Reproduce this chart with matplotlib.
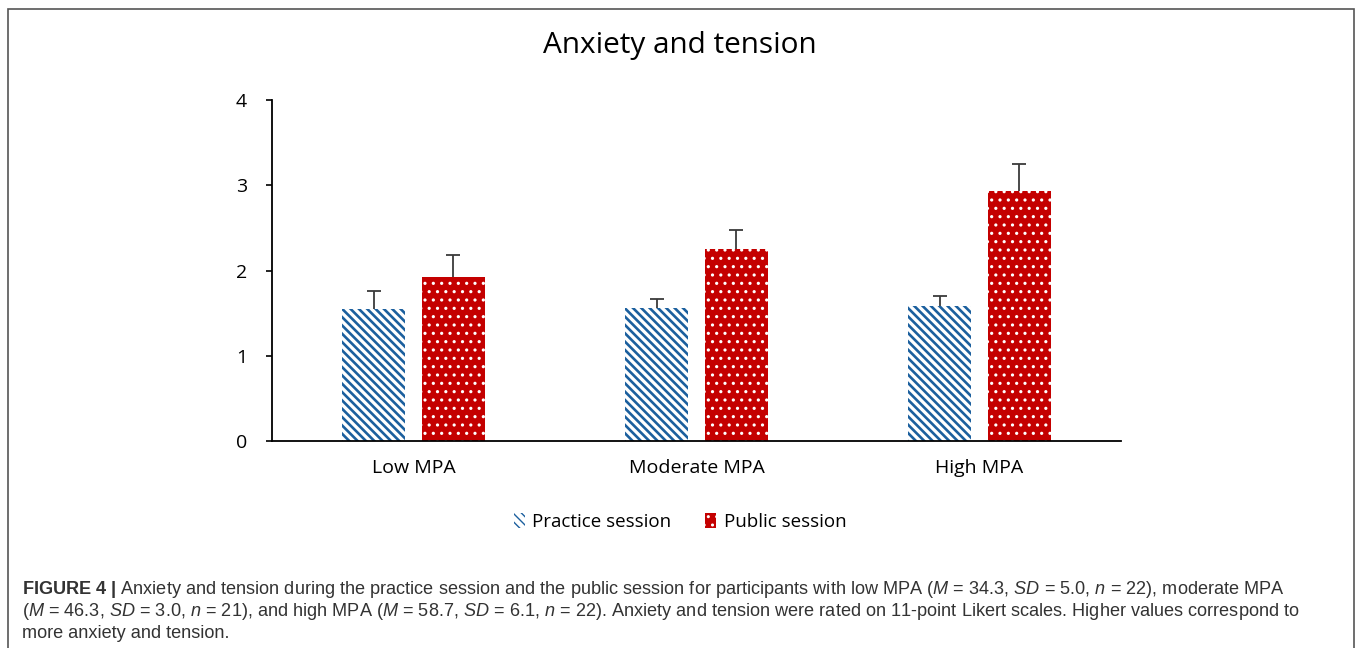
import matplotlib
matplotlib.use("Agg")
import matplotlib.pyplot as plt
import matplotlib.patches as patches
import numpy as np

categories = ["Low MPA", "Moderate MPA", "High MPA"]
practice = [1.55, 1.56, 1.58]
practice_err = [0.21, 0.11, 0.12]
public = [1.92, 2.25, 2.93]
public_err = [0.26, 0.22, 0.32]
yticks = [0, 1, 2, 3, 4]

caption_lines = [
    r"$\mathbf{FIGURE\ 4\ |}$ Anxiety and tension during the practice session and the public session for participants with low MPA "
    r"($\mathit{M}$ = 34.3, $\mathit{SD}$ = 5.0, $\mathit{n}$ = 22), moderate MPA",
    r"($\mathit{M}$ = 46.3, $\mathit{SD}$ = 3.0, $\mathit{n}$ = 21), and high MPA ($\mathit{M}$ = 58.7, $\mathit{SD}$ = 6.1, "
    r"$\mathit{n}$ = 22). Anxiety and tension were rated on 11-point Likert scales. Higher values correspond to",
    "more anxiety and tension.",
]

plt.rcParams["mathtext.fontset"] = "custom"
plt.rcParams["mathtext.rm"] = "Liberation Sans"
plt.rcParams["mathtext.it"] = "Liberation Sans:italic"
plt.rcParams["mathtext.bf"] = "Liberation Sans:bold"

blue = "#1b5f9e"
red = "#c40000"
stripes = "\\\\\\\\"
dots = ".."
W, H = 1358, 648


def set_hlw(artists, lw):
    for a in artists:
        if hasattr(a, "set_hatch_linewidth"):
            a.set_hatch_linewidth(lw)


fig = plt.figure(figsize=(W / 100, H / 100), dpi=100)
ax = fig.add_axes([272 / W, 1 - 441 / H, (1121 - 272) / W, (441 - 100) / H])

x = np.arange(len(categories))
bw = 0.222
off = 0.141
with plt.rc_context({"hatch.linewidth": 1.9}):
    b1 = ax.bar(x - off, practice, bw, facecolor="white", edgecolor=blue,
                linewidth=0, hatch=stripes)
    set_hlw(b1, 1.9)
    h1 = patches.Patch(facecolor="white", edgecolor=blue, linewidth=0, hatch=stripes)
    set_hlw([h1], 1.9)
with plt.rc_context({"hatch.linewidth": 1.1}):
    b2 = ax.bar(x + off, public, bw, facecolor=red, edgecolor="white",
                linewidth=0, hatch=dots)
    set_hlw(b2, 1.1)
    h2 = patches.Patch(facecolor=red, edgecolor="white", linewidth=0, hatch=dots)
    set_hlw([h2], 1.1)

# upper error bars only
for xs, vals, errs in [(x - off, practice, practice_err), (x + off, public, public_err)]:
    tops = np.array(vals) + np.array(errs)
    ax.vlines(xs, vals, tops, color="#3a3a3a", linewidth=1.3)
    ax.plot(xs, tops, linestyle="none", marker="_", markersize=9.5,
            markeredgewidth=1.3, color="#3a3a3a")

ax.set_xlim(-0.5, 2.5)
ax.set_ylim(0, 4)
ax.set_yticks(yticks)
ax.set_xticks(x)
ax.set_xticklabels(categories, fontfamily="Open Sans", fontsize=14)
ax.tick_params(axis="x", length=0, pad=13)
ax.tick_params(axis="y", length=4, width=1.2, pad=14, labelsize=14)
for lab in ax.get_yticklabels():
    lab.set_fontfamily("Open Sans")
for s in ["top", "right"]:
    ax.spines[s].set_visible(False)
ax.spines["left"].set_linewidth(1.3)
ax.spines["bottom"].set_linewidth(1.3)

fig.text(680 / W, 1 - 45 / H, "Anxiety and tension", ha="center", va="center",
         fontfamily="Open Sans", fontsize=21.4)

fig.legend([h1, h2], ["Practice session", "Public session"], loc="center",
           bbox_to_anchor=(680 / W, 1 - 522 / H), ncol=2, frameon=False,
           handlelength=0.6, handleheight=0.8, handletextpad=0.4,
           columnspacing=1.8, prop={"family": "Open Sans", "size": 13.5})

ys = [590, 612, 634]
for line, yy in zip(caption_lines, ys):
    fig.text(22 / W, 1 - yy / H, line, ha="left", va="center",
             fontfamily="Liberation Sans", fontsize=13.1, color="#333333")

fig.add_artist(patches.Rectangle((8 / W, -0.05), (1354 - 8) / W, 1.05 - 9 / H,
                                 transform=fig.transFigure, fill=False,
                                 edgecolor="#555555", linewidth=1.2))

fig.savefig("out.png", dpi=100)
